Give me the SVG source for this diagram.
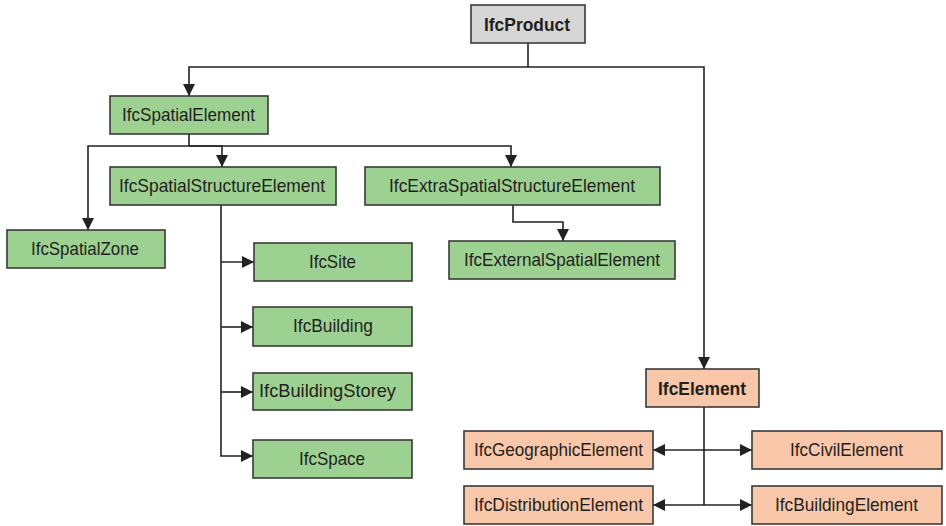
<svg xmlns="http://www.w3.org/2000/svg" width="946" height="526" viewBox="0 0 946 526">
  <defs>
    <marker id="arrow" viewBox="0 0 10 10" refX="10" refY="5" markerWidth="12" markerHeight="12" markerUnits="userSpaceOnUse" orient="auto-start-reverse">
      <path d="M0,0 L10,5 L0,10 Z" fill="#222"/>
    </marker>
  </defs>
  <style>
    .box { stroke: #3a3a3a; stroke-width: 1.6; }
    .green { fill: #9dd192; }
    .orange { fill: #f8c6a8; }
    .gray { fill: #d6d6d6; }
    .lbl { font-family: "Liberation Sans", Arial, sans-serif; font-size: 19px; fill: #231f20; text-anchor: middle; }
    .bold { font-weight: bold; }
    .wire { fill: none; stroke: #222; stroke-width: 1.6; }
  </style>
  <rect width="946" height="526" fill="#ffffff"/>

  <!-- connectors -->
  <g id="connectors">
    <path class="wire" d="M528,43 V67"/>
    <path class="wire" d="M528,67 H189 V96" marker-end="url(#arrow)"/>
    <path class="wire" d="M528,67 H704 V369" marker-end="url(#arrow)"/>
    <path class="wire" d="M189,134 V146"/>
    <path class="wire" d="M189,146 H88 V230" marker-end="url(#arrow)"/>
    <path class="wire" d="M189,146 H222 V167" marker-end="url(#arrow)"/>
    <path class="wire" d="M189,146 H511 V167" marker-end="url(#arrow)"/>
    <path class="wire" d="M513,205 V222 H563 V241" marker-end="url(#arrow)"/>
    <path class="wire" d="M221,205 V456 H253" marker-end="url(#arrow)"/>
    <path class="wire" d="M221,262 H254" marker-end="url(#arrow)"/>
    <path class="wire" d="M221,327 H253" marker-end="url(#arrow)"/>
    <path class="wire" d="M221,392 H253" marker-end="url(#arrow)"/>
    <path class="wire" d="M704,407 V505"/>
    <path class="wire" d="M653,450 H752" marker-start="url(#arrow)" marker-end="url(#arrow)"/>
    <path class="wire" d="M653,505 H752" marker-start="url(#arrow)" marker-end="url(#arrow)"/>
  </g>

  <g id="IfcProduct">
    <rect class="box gray" x="471" y="5" width="114" height="38"/>
    <text class="lbl bold" x="527" y="31" textLength="86" lengthAdjust="spacingAndGlyphs">IfcProduct</text>
  </g>
  <g id="IfcSpatialElement">
    <rect class="box green" x="110" y="96" width="158" height="38"/>
    <text class="lbl" x="188.5" y="121" textLength="133" lengthAdjust="spacingAndGlyphs">IfcSpatialElement</text>
  </g>
  <g id="IfcSpatialZone">
    <rect class="box green" x="7" y="230" width="158" height="38"/>
    <text class="lbl" x="85" y="255" textLength="108" lengthAdjust="spacingAndGlyphs">IfcSpatialZone</text>
  </g>
  <g id="IfcSpatialStructureElement">
    <rect class="box green" x="110" y="167" width="226" height="38"/>
    <text class="lbl" x="222" y="192" textLength="206" lengthAdjust="spacingAndGlyphs">IfcSpatialStructureElement</text>
  </g>
  <g id="IfcExtraSpatialStructureElement">
    <rect class="box green" x="365" y="167" width="295" height="38"/>
    <text class="lbl" x="512" y="192" textLength="246" lengthAdjust="spacingAndGlyphs">IfcExtraSpatialStructureElement</text>
  </g>
  <g id="IfcExternalSpatialElement">
    <rect class="box green" x="449" y="241" width="226" height="38"/>
    <text class="lbl" x="562" y="266" textLength="196" lengthAdjust="spacingAndGlyphs">IfcExternalSpatialElement</text>
  </g>
  <g id="IfcSite">
    <rect class="box green" x="254" y="243" width="158" height="38"/>
    <text class="lbl" x="332.5" y="268" textLength="47" lengthAdjust="spacingAndGlyphs">IfcSite</text>
  </g>
  <g id="IfcBuilding">
    <rect class="box green" x="253" y="307" width="159" height="39"/>
    <text class="lbl" x="333" y="332" textLength="80" lengthAdjust="spacingAndGlyphs">IfcBuilding</text>
  </g>
  <g id="IfcBuildingStorey">
    <rect class="box green" x="253" y="373" width="159" height="37"/>
    <text class="lbl" x="327.5" y="397" textLength="137" lengthAdjust="spacingAndGlyphs">IfcBuildingStorey</text>
  </g>
  <g id="IfcSpace">
    <rect class="box green" x="253" y="440" width="159" height="38"/>
    <text class="lbl" x="332" y="465" textLength="66" lengthAdjust="spacingAndGlyphs">IfcSpace</text>
  </g>
  <g id="IfcElement">
    <rect class="box orange" x="646" y="369" width="113" height="38"/>
    <text class="lbl bold" x="702" y="395" textLength="88" lengthAdjust="spacingAndGlyphs">IfcElement</text>
  </g>
  <g id="IfcGeographicElement">
    <rect class="box orange" x="464" y="431" width="189" height="38"/>
    <text class="lbl" x="558.5" y="456" textLength="169" lengthAdjust="spacingAndGlyphs">IfcGeographicElement</text>
  </g>
  <g id="IfcCivilElement">
    <rect class="box orange" x="752" y="431" width="190" height="38"/>
    <text class="lbl" x="846.5" y="456" textLength="113" lengthAdjust="spacingAndGlyphs">IfcCivilElement</text>
  </g>
  <g id="IfcDistributionElement">
    <rect class="box orange" x="464" y="486" width="189" height="38"/>
    <text class="lbl" x="558.5" y="511" textLength="169" lengthAdjust="spacingAndGlyphs">IfcDistributionElement</text>
  </g>
  <g id="IfcBuildingElement">
    <rect class="box orange" x="752" y="486" width="190" height="38"/>
    <text class="lbl" x="846.5" y="511" textLength="143" lengthAdjust="spacingAndGlyphs">IfcBuildingElement</text>
  </g>
</svg>
